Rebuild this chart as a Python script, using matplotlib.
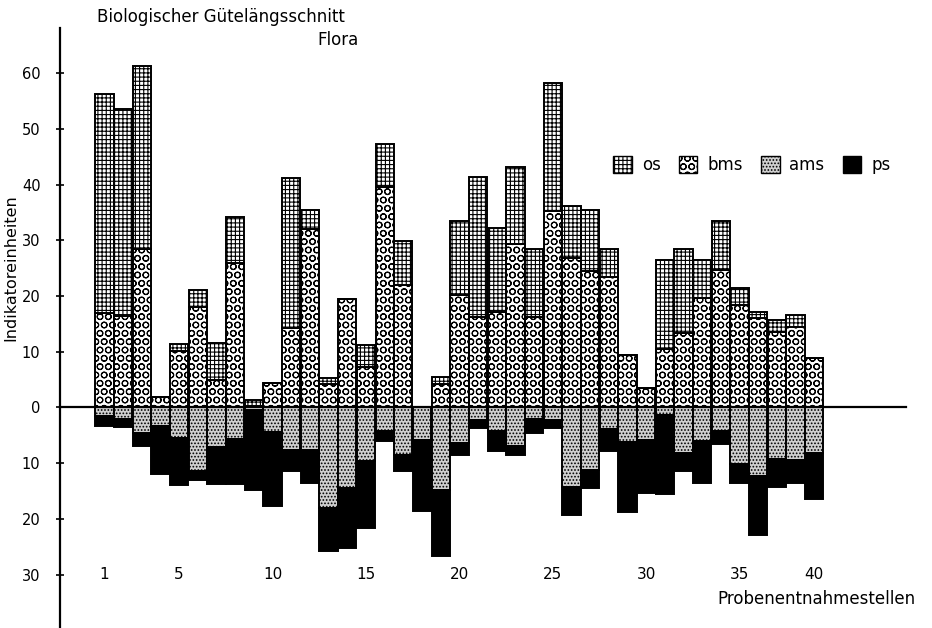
import matplotlib
matplotlib.use("Agg")
import matplotlib.pyplot as plt
import matplotlib.patches as mpatches
import numpy as np

plt.rcParams['font.family'] = ['DejaVu Sans']
plt.rcParams['hatch.linewidth'] = 0.8

# Probenentnahmestellen 1..39
stellen = np.arange(1, 40)
bms = [17.0, 16.4, 28.4, 1.9, 10.1, 18.1, 5.0, 26.0, 0.3, 4.4,
       14.2, 32.1, 4.2, 19.5, 7.2, 39.6, 21.9, 0.0, 4.2, 20.2,
       16.3, 17.2, 29.3, 16.2, 35.2, 26.9, 24.4, 23.4, 9.4, 3.4,
       10.5, 13.3, 19.6, 24.7, 18.4, 16.0, 13.5, 14.5, 8.8]
os_ = [39.2, 37.2, 32.8, 0.0, 1.2, 3.0, 6.6, 8.1, 1.0, 0.0,
       26.9, 3.3, 1.1, 0.0, 4.0, 7.7, 7.9, 0.0, 1.2, 13.3,
       25.1, 15.0, 13.8, 12.3, 23.0, 9.3, 11.0, 5.1, 0.0, 0.0,
       16.0, 15.2, 6.9, 8.8, 3.0, 1.1, 2.1, 2.1, 0.0]
ams = [1.5, 2.1, 4.6, 3.3, 5.5, 11.5, 7.1, 5.7, 0.4, 4.5,
       7.6, 7.6, 18.1, 14.5, 9.6, 4.3, 8.5, 5.8, 14.8, 6.4,
       2.2, 4.2, 7.0, 2.1, 2.2, 14.3, 11.2, 3.9, 6.3, 5.8,
       1.3, 8.2, 6.1, 4.3, 10.1, 12.3, 9.3, 9.4, 8.2]
ps = [1.8, 1.5, 2.4, 8.6, 8.4, 1.5, 6.6, 8.0, 14.4, 13.2,
      3.9, 6.0, 7.6, 10.7, 12.1, 1.7, 2.9, 12.8, 11.8, 2.1,
      1.5, 3.6, 1.5, 2.5, 1.5, 5.1, 3.3, 3.9, 12.4, 9.6,
      14.2, 3.3, 7.4, 2.3, 3.4, 10.6, 5.0, 4.2, 8.2]

xtick_pos = [1, 5, 10, 15, 20, 25, 30, 35, 39]
xtick_lab = ['1', '5', '10', '15', '20', '25', '30', '35', '40']
yticks = [-30, -20, -10, 0, 10, 20, 30, 40, 50, 60]

bms = np.array(bms)
os_ = np.array(os_)
ams = np.array(ams)
ps = np.array(ps)

H_OS = '++++'
H_BMS = 'OO'
H_AMS = '.....'
C_AMS = '#cfcfcf'

fig = plt.figure(figsize=(9.32, 6.28), dpi=100)
ax = fig.add_axes([60 / 932, 0, 872 / 932, 600 / 628])

w = 0.98
lw = 1.4
ax.bar(stellen, bms, width=w, color='white', edgecolor='black', hatch=H_BMS, linewidth=lw)
ax.bar(stellen, os_, bottom=bms, width=w, color='white', edgecolor='black', hatch=H_OS, linewidth=lw)
ax.bar(stellen, -ams, width=w, color=C_AMS, edgecolor='black', hatch=H_AMS, linewidth=lw)
ax.bar(stellen, -ps, bottom=-ams, width=w, color='black', edgecolor='black', linewidth=lw)

ax.plot([-1.38, 43.9], [0, 0], color='black', lw=1.6, clip_on=False)

ax.set_xlim(-1.38, 45.3)
ax.set_ylim(-39.6, 68.1)

for s in ['top', 'right', 'bottom']:
    ax.spines[s].set_visible(False)
ax.spines['left'].set_linewidth(1.6)
ax.set_xticks([])
ax.set_yticks(yticks)
ax.set_yticklabels([str(abs(v)) for v in yticks])
ax.tick_params(axis='y', direction='inout', length=6, width=1.2, labelsize=10.5, pad=11)

for p, t in zip(xtick_pos, xtick_lab):
    ax.text(p, -30, t, ha='center', va='center', fontsize=11)

fig.text(11 / 932, 1 - 268 / 628, 'Indikatoreinheiten', rotation=90,
         ha='center', va='center', fontsize=11.5)
fig.text(97 / 932, 1 - 17 / 628, 'Biologischer Gütelängsschnitt', ha='left', va='center', fontsize=12)
fig.text(317 / 932, 1 - 40 / 628, 'Flora', ha='left', va='center', fontsize=12)
fig.text(717 / 932, 1 - 599 / 628, 'Probenentnahmestellen', ha='left', va='center', fontsize=12)

handles = [
    mpatches.Patch(facecolor='white', edgecolor='black', hatch=H_OS, label='os'),
    mpatches.Patch(facecolor='white', edgecolor='black', hatch=H_BMS, label='bms'),
    mpatches.Patch(facecolor=C_AMS, edgecolor='black', hatch=H_AMS, label='ams'),
    mpatches.Patch(facecolor='black', edgecolor='black', label='ps'),
]
fig.legend(handles=handles, loc='center', bbox_to_anchor=(752 / 932, 1 - 165 / 628),
           ncol=4, frameon=False, fontsize=12, handlelength=1.1, handleheight=1.2,
           columnspacing=1.1, handletextpad=0.6)

fig.savefig('out.png', dpi=100)
